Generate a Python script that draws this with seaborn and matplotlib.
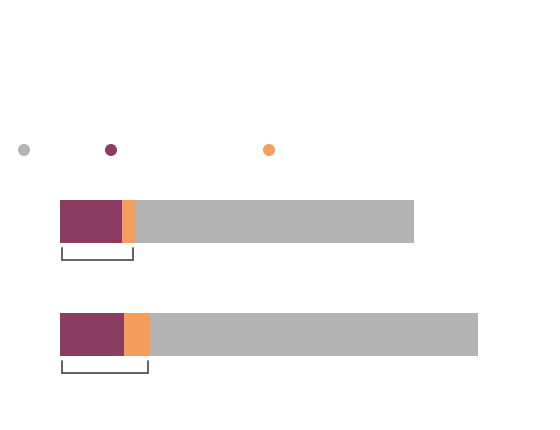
import pandas as pd
import numpy as np
import matplotlib.pyplot as plt
import seaborn as sns

# Dados das barras (unidades ~ pixels da referencia)
rows = ["A", "B"]
purple_vals = [62, 64]
orange_vals = [13, 26]
gray_vals = [279, 328]

c_gray = "#b3b3b3"
c_purple = "#8b3d61"
c_orange = "#f59d5c"

df = pd.DataFrame({"row": rows, "purple": purple_vals, "orange": orange_vals, "gray": gray_vals})
df["po"] = df["purple"] + df["orange"]
df["total"] = df["po"] + df["gray"]

sns.set_style("white")
fig = plt.figure(figsize=(5.6, 4.3), dpi=100)
ax = fig.add_axes([60 / 560, 0, 500 / 560, 1])

bar_h = 43 / 113
sns.barplot(data=df, y="row", x="total", color=c_gray, orient="h", width=bar_h, ax=ax, saturation=1)
sns.barplot(data=df, y="row", x="po", color=c_orange, orient="h", width=bar_h, ax=ax, saturation=1)
sns.barplot(data=df, y="row", x="purple", color=c_purple, orient="h", width=bar_h, ax=ax, saturation=1)
for p in ax.patches:
    p.set_edgecolor("none")

# colchetes abaixo de cada barra (roxo + laranja)
for i, w in enumerate(df["po"]):
    top = i + 26.5 / 113
    bot = i + 38.5 / 113
    ax.plot([2, 2, w - 2, w - 2], [top, bot, bot, top], color="#555555", lw=1.3,
            solid_joinstyle="miter", clip_on=False)

ax.set_xlim(0, 500)
ax.set_ylim((430 - 221.5) / 113, -221.5 / 113)
ax.set_axis_off()

# legenda (so os marcadores)
lax = fig.add_axes([0, 0, 1, 1])
lax.set_xlim(0, 560)
lax.set_ylim(430, 0)
lax.set_axis_off()
leg_x = [24, 111, 269]
leg_c = [c_gray, c_purple, c_orange]
lax.scatter(leg_x, [150] * 3, s=75, c=leg_c, edgecolors="none")

plt.savefig("out.png", dpi=100)
